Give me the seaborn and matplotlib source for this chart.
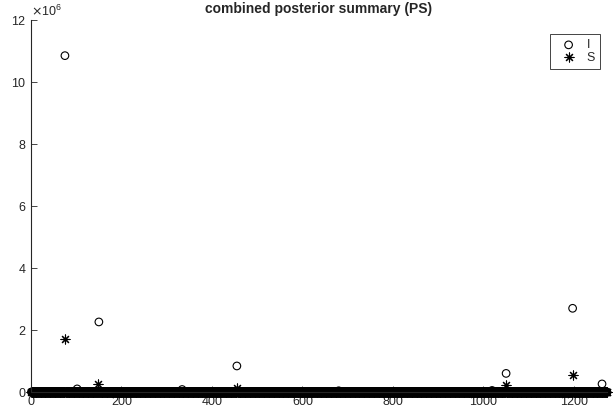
import numpy as np
import pandas as pd
import matplotlib
matplotlib.use("Agg")
import matplotlib.pyplot as plt
import seaborn as sns

# datos: 1273 elementos, casi todos ~0 salvo algunos picos
n_items = 1273
i_idx = [75, 102, 150, 334, 455, 680, 1019, 1050, 1197, 1262]
i_val = [10.85e6, 0.10e6, 2.26e6, 0.08e6, 0.84e6, 0.04e6, 0.05e6, 0.60e6, 2.70e6, 0.26e6]
s_idx = [75, 148, 455, 1050, 1197]
s_val = [1.71e6, 0.25e6, 0.12e6, 0.22e6, 0.56e6]

x = np.arange(1, n_items + 1)
I = np.zeros(n_items)
S = np.zeros(n_items)
I[np.array(i_idx) - 1] = i_val
S[np.array(s_idx) - 1] = s_val
df = pd.DataFrame({"x": x, "I": I, "S": S})

sns.set_style("white")
plt.rcParams["font.family"] = ["Liberation Sans", "DejaVu Sans"]
plt.rcParams["font.size"] = 9

fig = plt.figure(figsize=(6.14, 4.18), dpi=100)
ax = fig.add_axes([31 / 614, 26 / 418, 576 / 614, 372 / 418])

sns.scatterplot(data=df, x="x", y="I", marker="o", s=30, facecolors="none",
                edgecolor="black", linewidth=0.8, label="I", ax=ax, clip_on=False)
sns.scatterplot(data=df, x="x", y="S", marker=(8, 2, 0), s=42, color="black",
                linewidth=0.8, label="S", ax=ax, clip_on=False)

ax.set_xlim(0, n_items)
ax.set_ylim(0, 12e6)
ax.set_xticks(range(0, 1201, 200))
ax.set_yticks(np.arange(0, 12.1e6, 2e6))
ax.ticklabel_format(axis="y", style="sci", scilimits=(6, 6), useMathText=True)
ax.set_xlabel("")
ax.set_ylabel("")
ax.set_title("combined posterior summary (PS)", fontweight="bold", fontsize=10, pad=5)

for side in ["top", "right"]:
    ax.spines[side].set_visible(False)
for side in ["left", "bottom"]:
    ax.spines[side].set_color("#262626")
    ax.spines[side].set_linewidth(0.8)
ax.tick_params(direction="in", length=4, width=0.6, colors="#262626", labelsize=9,
               left=True, bottom=True, pad=3)
ax.yaxis.get_offset_text().set_fontsize(9)

leg = ax.legend(loc="upper right", bbox_to_anchor=(0.988, 0.962), borderaxespad=0,
                frameon=True, fancybox=False, edgecolor="#262626", framealpha=1,
                fontsize=9, handletextpad=0.4, borderpad=0.4, labelspacing=0.05,
                handlelength=2.1)
leg.get_frame().set_linewidth(0.6)

fig.savefig("out.png", dpi=100)
